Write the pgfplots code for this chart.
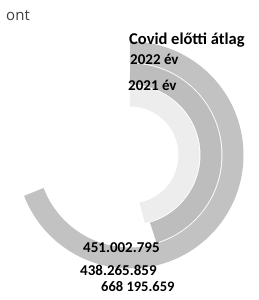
\documentclass[border=0pt]{standalone}
\usepackage{pgfplots}
\pgfplotsset{compat=1.18}
\usepackage{pgfplotstable}
\usepackage{fontspec}
\setmainfont{Carlito}
\newfontfamily\lightfont{Open Sans}
% values in millions
\pgfplotstableread{
series value r
covid 668.195659 103
y2022 438.265859 81
y2021 451.002795 59
}\rings
\begin{document}
\begin{tikzpicture}
\pgfplotstablegetelem{0}{value}\of\rings \let\vA\pgfplotsretval
\pgfplotstablegetelem{1}{value}\of\rings \let\vB\pgfplotsretval
\pgfplotstablegetelem{2}{value}\of\rings \let\vC\pgfplotsretval
\pgfmathsetmacro\sA{90-\vA/668.195659*249}
\pgfmathsetmacro\sB{90-\vB/668.195659*249}
\pgfmathsetmacro\sC{90-\vC/668.195659*249}
\begin{axis}[
  x=1pt, y=1pt, scale only axis, hide axis,
  xmin=0, xmax=258, ymin=0, ymax=300,
  disabledatascaling, clip=false,
]
\addplot[draw=none] coordinates {(0,0) (258,300)};
\draw[gray!48, line width=21pt] (axis cs:130,145) ++(90:103pt) arc[start angle=90, end angle=\sA, radius=103pt];
\draw[gray!52, line width=21pt] (axis cs:130,145) ++(90:81pt) arc[start angle=90, end angle=\sB, radius=81pt];
\draw[gray!14, line width=21pt] (axis cs:130,145) ++(90:59pt) arc[start angle=90, end angle=\sC, radius=59pt];
\node[anchor=east, font=\lightfont\fontsize{15}{15}\selectfont, text=black!75, inner sep=0pt] at (axis cs:30,284) {ont};
\node[anchor=west, font=\bfseries\fontsize{16.5}{17}\selectfont, inner sep=0pt] at (axis cs:129,260) {Covid előtti átlag};
\node[anchor=west, font=\bfseries\fontsize{15}{15}\selectfont, inner sep=0pt] at (axis cs:130,241) {2022 év};
\node[anchor=west, font=\bfseries\fontsize{15}{15}\selectfont, inner sep=0pt] at (axis cs:128,215) {2021 év};
\node[anchor=west, font=\bfseries\fontsize{15}{15}\selectfont, inner sep=0pt] at (axis cs:83,52) {451.002.795};
\node[anchor=west, font=\bfseries\fontsize{15}{15}\selectfont, inner sep=0pt] at (axis cs:80,30) {438.265.859};
\node[anchor=west, font=\bfseries\fontsize{14.5}{15}\selectfont, inner sep=0pt] at (axis cs:101,13) {668 195.659};
\end{axis}
\end{tikzpicture}
\end{document}
